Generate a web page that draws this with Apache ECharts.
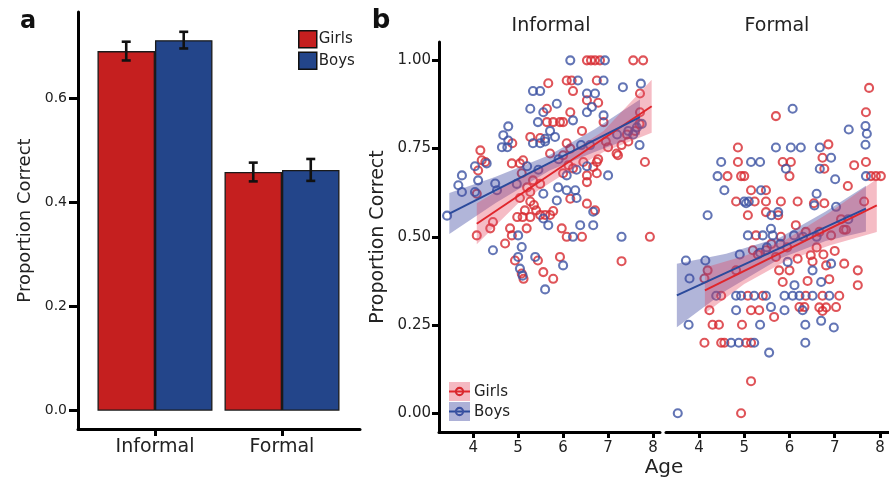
<!DOCTYPE html>
<html><head><meta charset="utf-8">
<script src="https://cdn.jsdelivr.net/npm/echarts@6/dist/echarts.min.js"></script>
<style>html,body{margin:0;padding:0;background:#fff}#c{width:889px;height:480px}</style>
</head><body><div id="c"></div>
<script>
// ---------- Panel a data ----------
const cats = ['Informal', 'Formal'];
const barGirls = [0.690, 0.458];
const barBoys = [0.711, 0.462];
const errGirls = [0.018, 0.018];
const errBoys = [0.016, 0.021];
const barTicks = [0, 0.2, 0.4, 0.6];

// ---------- Panel b data: [age, proportion] ----------
const informalGirls = [
[6.53,1.0],[6.62,1.0],[6.71,1.0],[6.82,1.0],[7.56,1.0],[7.78,1.0],
[5.67,0.935],[6.08,0.943],[6.19,0.943],[6.75,0.943],[6.22,0.913],[7.71,0.906],
[6.53,0.887],[6.78,0.88],[5.64,0.863],[6.16,0.853],[7.71,0.853],
[5.64,0.825],[5.78,0.825],[5.93,0.825],[6.0,0.825],[6.42,0.80],[6.9,0.825],
[4.87,0.765],[5.27,0.783],[5.49,0.78],[6.08,0.765],[4.16,0.745],[4.19,0.717],[4.11,0.688],
[4.86,0.708],[5.04,0.708],[5.11,0.717],[5.71,0.736],[5.08,0.68],[5.49,0.65],[5.27,0.627],
[6.0,0.68],[6.45,0.712],[6.75,0.712],[6.75,0.68],[6.22,0.694],[6.53,0.655],[6.16,0.608],
[6.53,0.594],[6.71,0.575],[7.19,0.736],[7.82,0.712],[7.0,0.754],
[5.04,0.61],[5.15,0.575],[5.27,0.6],[5.4,0.575],[5.49,0.562],[5.6,0.562],[5.71,0.562],[5.2,0.64],[5.35,0.59],
[4.27,0.712],[4.08,0.622],[6.16,0.75],[6.12,0.703],[6.67,0.698],[6.78,0.72],[6.53,0.674],[7.22,0.731],[5.33,0.66],[6.0,0.731],
[4.44,0.542],[4.38,0.524],[4.08,0.504],[4.71,0.481],[4.82,0.524],[4.86,0.504],[5.19,0.524],[4.98,0.556],[5.1,0.556],[5.27,0.556],
[5.78,0.573],[5.97,0.524],[6.08,0.5],[6.42,0.5],[7.93,0.5],[7.3,0.431],[4.93,0.433],[5.08,0.396],[5.12,0.381],[5.44,0.433],
[5.56,0.4],[5.78,0.381],[5.93,0.443],
[7.42,0.79],[7.6,0.80],[7.7,0.82],[7.45,0.77],[6.95,0.77],[7.3,0.76]
];
const informalBoys = [
[6.16,1.0],[6.93,1.0],[6.33,0.943],[6.9,0.943],[7.33,0.924],[7.73,0.934],
[5.33,0.913],[5.49,0.913],[6.53,0.906],[6.71,0.906],[5.86,0.877],[5.27,0.863],[5.56,0.853],[6.53,0.853],[6.64,0.868],
[4.78,0.813],[5.44,0.825],[5.71,0.80],[6.22,0.83],[6.9,0.844],[7.64,0.81],
[4.67,0.788],[4.78,0.773],[4.64,0.754],[4.76,0.754],[5.33,0.765],[5.49,0.765],[5.6,0.77],[5.82,0.783],
[4.3,0.708],[4.04,0.70],[3.75,0.674],[3.67,0.646],[3.75,0.627],[4.11,0.66],[4.04,0.627],[4.49,0.651],[4.97,0.65],
[6.3,0.69],[6.53,0.70],[7.0,0.674],[5.89,0.64],[6.08,0.632],[6.27,0.632],[6.3,0.61],[5.86,0.603],[5.56,0.622],[4.53,0.632],
[6.08,0.674],[5.6,0.778],
[3.42,0.56],[5.0,0.504],[5.08,0.471],[5.56,0.552],[5.67,0.533],[6.22,0.5],[6.38,0.533],[6.67,0.533],[6.67,0.571],[7.3,0.5],
[4.44,0.462],[5.0,0.443],[5.04,0.41],[5.1,0.39],[5.38,0.443],[5.6,0.351],[6.0,0.419],
[7.56,0.79],[7.75,0.82],[7.45,0.80],[7.2,0.79],[7.7,0.76],
[5.2,0.70],[5.45,0.69],[5.9,0.72],[6.4,0.76],[6.6,0.76]
];
const formalGirls = [
[5.70,0.842],[7.69,0.853],[7.76,0.922],[4.86,0.753],[6.86,0.762],[4.86,0.712],[5.85,0.712],[6.03,0.712],[6.73,0.724],
[6.77,0.693],[7.43,0.703],[7.69,0.712],[4.63,0.672],[4.93,0.672],[5.0,0.672],[6.0,0.672],[7.8,0.672],[7.91,0.672],[8.02,0.672],
[7.29,0.644],[5.15,0.632],[5.48,0.632],[4.82,0.6],[5.23,0.6],[5.48,0.6],[5.81,0.6],[6.18,0.6],[6.54,0.595],[6.77,0.595],
[5.08,0.561],[5.48,0.57],[5.75,0.561],[7.14,0.55],[7.65,0.6],[5.26,0.504],[5.81,0.5],[6.14,0.533],[6.36,0.514],[6.66,0.514],
[6.92,0.504],[7.25,0.52],[4.19,0.405],[4.12,0.382],[5.19,0.462],[5.48,0.462],[5.7,0.443],[6.18,0.438],[6.47,0.448],[6.51,0.43],
[6.81,0.419],[7.21,0.424],[7.51,0.405],[7.51,0.363],[4.82,0.405],[5.77,0.405],[6.0,0.405],[5.85,0.372],[6.4,0.375],[6.88,0.38],
[4.49,0.333],[5.08,0.333],[5.41,0.333],[6.36,0.333],[6.73,0.333],[7.1,0.333],[4.23,0.292],[5.15,0.292],[5.33,0.292],[5.66,0.273],
[6.22,0.301],[6.33,0.301],[6.66,0.30],[6.73,0.29],[6.81,0.30],[7.03,0.301],[4.3,0.251],[4.44,0.251],[4.95,0.251],
[4.12,0.2],[4.49,0.2],[4.56,0.2],[5.04,0.2],[5.15,0.2],[5.15,0.091],[4.93,0.0],
[5.3,0.45],[5.6,0.48],[5.95,0.47],[6.6,0.47],[6.75,0.45],[7.2,0.52],[7.0,0.46]
];
const formalBoys = [
[6.07,0.863],[7.31,0.804],[7.68,0.814],[7.71,0.792],[7.68,0.761],[5.70,0.753],[6.03,0.753],[6.25,0.753],[6.67,0.753],
[4.49,0.712],[5.15,0.712],[5.35,0.712],[5.92,0.693],[6.92,0.724],[6.67,0.693],[4.41,0.672],[7.01,0.663],[7.69,0.672],
[4.56,0.632],[5.37,0.632],[5.0,0.6],[5.1,0.6],[6.6,0.622],[5.04,0.595],[4.19,0.561],[5.6,0.561],[5.75,0.57],[6.55,0.589],
[7.03,0.585],[5.08,0.504],[5.41,0.504],[5.59,0.523],[5.63,0.504],[6.1,0.504],[3.71,0.433],[4.14,0.433],[3.79,0.382],
[5.35,0.455],[5.96,0.429],[6.51,0.405],[6.92,0.424],[6.11,0.363],[6.7,0.372],
[4.38,0.333],[4.82,0.333],[4.93,0.333],[5.22,0.333],[5.48,0.333],[5.89,0.333],[6.07,0.333],[6.22,0.333],[6.51,0.333],[6.88,0.333],
[4.82,0.292],[5.59,0.301],[5.89,0.292],[6.29,0.292],[6.70,0.262],[6.98,0.243],[3.77,0.251],[5.35,0.251],[6.35,0.251],
[4.71,0.2],[4.88,0.2],[5.22,0.2],[6.35,0.2],[5.55,0.172],[3.53,0.0],
[5.5,0.47],[5.8,0.48],[6.3,0.5],[6.6,0.5],[4.9,0.45],[7.3,0.55]
];

// fitted lines (endpoints)
const fitInfGirls = [[4.08,0.537],[7.97,0.870]];
const fitInfBoys = [[3.47,0.566],[7.71,0.839]];
const fitForGirls = [[4.13,0.348],[7.93,0.589]];
const fitForBoys = [[3.51,0.334],[7.69,0.580]];
// confidence bands: ages, lower, upper
const bandInfGirlsX = [4.08,5.0,5.9,6.9,7.97];
const bandInfGirlsLo = [0.479,0.595,0.668,0.740,0.795];
const bandInfGirlsHi = [0.595,0.667,0.718,0.800,0.945];
const bandInfBoysX = [3.47,4.5,5.7,6.7,7.71];
const bandInfBoysLo = [0.508,0.596,0.688,0.740,0.789];
const bandInfBoysHi = [0.624,0.670,0.732,0.805,0.889];
const bandForGirlsX = [4.13,5.0,5.9,6.9,7.93];
const bandForGirlsLo = [0.283,0.366,0.430,0.476,0.514];
const bandForGirlsHi = [0.413,0.446,0.490,0.570,0.664];
const bandForBoysX = [3.51,4.6,5.8,6.8,7.69];
const bandForBoysLo = [0.244,0.348,0.439,0.488,0.515];
const bandForBoysHi = [0.424,0.452,0.499,0.572,0.645];
const ageTicks = [4,5,6,7,8];
const propTicks = [0, 0.25, 0.5, 0.75, 1.0];

// ---------- styles ----------
const RED = '#c51f1f', BLUE = '#23458a';
const PRED = '#d7292f', PBLUE = '#3c52a2';
const FONT = 'DejaVu Sans';
const TXT = '#222';
const BAR_W = 57.5;

function bandSeries(xs, lo, hi, fill, gi) {
  return {
    type: 'custom', xAxisIndex: gi, yAxisIndex: gi, z: 3, silent: true,
    data: [[xs[2], (lo[2] + hi[2]) / 2]],
    renderItem: function (params, api) {
      const pts = [];
      for (let i = 0; i < xs.length; i++) pts.push(api.coord([xs[i], hi[i]]));
      for (let i = xs.length - 1; i >= 0; i--) pts.push(api.coord([xs[i], lo[i]]));
      return { type: 'polygon', shape: { points: pts }, style: { fill: fill } };
    }
  };
}
function lineSeries(d, color, gi) {
  return { type: 'line', xAxisIndex: gi, yAxisIndex: gi, data: d, showSymbol: false, z: 4, silent: true,
    lineStyle: { color: color, width: 2 } };
}
function scatterSeries(name, d, color, gi) {
  return { type: 'scatter', name: name, xAxisIndex: gi, yAxisIndex: gi, data: d, z: 2,
    symbol: 'circle', symbolSize: 8,
    itemStyle: { color: 'rgba(0,0,0,0)', borderColor: color, borderWidth: 2.1 } };
}
function errSeries(vals, errs, side) {
  return {
    type: 'custom', xAxisIndex: 0, yAxisIndex: 0, z: 5, silent: true,
    data: vals.map((v, i) => [i + 1, v, errs[i]]),
    renderItem: function (params, api) {
      const x = api.value(0), m = api.value(1), e = api.value(2);
      const t = api.coord([x, m + e]), b = api.coord([x, m - e]);
      const cx = t[0] + side * BAR_W / 2;
      const st = { stroke: '#111', lineWidth: 2.6 };
      return { type: 'group', children: [
        { type: 'line', shape: { x1: cx, y1: t[1], x2: cx, y2: b[1] }, style: st },
        { type: 'line', shape: { x1: cx - 4.5, y1: t[1], x2: cx + 4.5, y2: t[1] }, style: st },
        { type: 'line', shape: { x1: cx - 4.5, y1: b[1], x2: cx + 4.5, y2: b[1] }, style: st }
      ]};
    }
  };
}

const axisLineStyle = { show: true, onZero: false, lineStyle: { color: '#000', width: 3 } };

const chart = echarts.init(document.getElementById('c'), null, { renderer: 'canvas' });
chart.setOption({
  animation: false,
  backgroundColor: '#fff',
  textStyle: { fontFamily: FONT },
  grid: [
    { left: 78, top: 12, width: 282, height: 417 },
    { left: 439, top: 42, width: 221, height: 390 },
    { left: 666, top: 42, width: 223, height: 390 }
  ],
  xAxis: [
    { type: 'value', gridIndex: 0, min: 0.394, max: 2.614, splitLine: { show: false },
      axisLine: axisLineStyle,
      axisTick: { show: true, length: 7, customValues: [1, 2], lineStyle: { color: '#000', width: 3 } },
      axisLabel: { customValues: [1, 2], formatter: v => cats[Math.round(v) - 1], fontSize: 19, color: TXT, margin: 9, fontFamily: FONT } },
    { type: 'value', gridIndex: 1, min: 3.24, max: 8.155, splitLine: { show: false },
      axisLine: axisLineStyle,
      axisTick: { show: true, length: 6, customValues: ageTicks, lineStyle: { color: '#000', width: 3 } },
      axisLabel: { customValues: ageTicks, fontSize: 15, color: TXT, margin: 9, fontFamily: FONT } },
    { type: 'value', gridIndex: 2, min: 3.27, max: 8.2, splitLine: { show: false },
      axisLine: axisLineStyle,
      axisTick: { show: true, length: 6, customValues: ageTicks, lineStyle: { color: '#000', width: 3 } },
      axisLabel: { customValues: ageTicks, fontSize: 15, color: TXT, margin: 9, fontFamily: FONT } }
  ],
  yAxis: [
    { type: 'value', gridIndex: 0, min: -0.0351, max: 0.765, splitLine: { show: false },
      axisLine: axisLineStyle,
      axisTick: { show: true, length: 9, customValues: barTicks, lineStyle: { color: '#000', width: 3 } },
      axisLabel: { customValues: barTicks, formatter: v => v.toFixed(1), fontSize: 14, color: TXT, margin: 11, fontFamily: FONT },
      name: 'Proportion Correct', nameLocation: 'middle', nameGap: 44,
      nameTextStyle: { fontSize: 18, color: TXT, fontFamily: FONT } },
    { type: 'value', gridIndex: 1, min: -0.053, max: 1.052, splitLine: { show: false },
      axisLine: axisLineStyle,
      axisTick: { show: true, length: 7, customValues: propTicks, lineStyle: { color: '#000', width: 3 } },
      axisLabel: { customValues: propTicks, formatter: v => v.toFixed(2), fontSize: 15, color: TXT, margin: 8, fontFamily: FONT },
      name: 'Proportion Correct', nameLocation: 'middle', nameGap: 51,
      nameTextStyle: { fontSize: 19, color: TXT, fontFamily: FONT } },
    { type: 'value', gridIndex: 2, min: -0.053, max: 1.052, splitLine: { show: false },
      axisLine: { show: false }, axisTick: { show: false }, axisLabel: { show: false } }
  ],
  legend: {
    data: ['Girls', 'Boys'], orient: 'vertical', left: 293, top: 25, itemWidth: 18, itemHeight: 17, itemGap: 3,
    icon: 'rect', selectedMode: false,
    itemStyle: { borderColor: '#111', borderWidth: 1.5 },
    textStyle: { fontSize: 15, color: TXT, fontFamily: FONT, padding: [0, 0, 0, -3] }
  },
  graphic: [
    { type: 'text', x: 28, y: 22, style: { text: 'a', font: 'bold 24px "DejaVu Sans"', fill: '#111', textAlign: 'center', textVerticalAlign: 'middle' } },
    { type: 'text', x: 381, y: 21, style: { text: 'b', font: 'bold 26px "DejaVu Sans"', fill: '#111', textAlign: 'center', textVerticalAlign: 'middle' } },
    { type: 'text', x: 551, y: 26.5, style: { text: 'Informal', font: '19px "DejaVu Sans"', fill: TXT, textAlign: 'center', textVerticalAlign: 'middle' } },
    { type: 'text', x: 777, y: 26.5, style: { text: 'Formal', font: '19px "DejaVu Sans"', fill: TXT, textAlign: 'center', textVerticalAlign: 'middle' } },
    { type: 'text', x: 664, y: 468, style: { text: 'Age', font: '20px "DejaVu Sans"', fill: TXT, textAlign: 'center', textVerticalAlign: 'middle' } },
    // panel b legend keys
    { type: 'rect', shape: { x: 449, y: 382, width: 21, height: 19 }, style: { fill: 'rgba(228,70,95,0.38)' } },
    { type: 'line', shape: { x1: 449, y1: 391.5, x2: 470, y2: 391.5 }, style: { stroke: '#e0262c', lineWidth: 2 } },
    { type: 'circle', shape: { cx: 459.5, cy: 391.5, r: 3.6 }, style: { fill: 'none', stroke: PRED, lineWidth: 2.1 } },
    { type: 'rect', shape: { x: 449, y: 402, width: 21, height: 19 }, style: { fill: 'rgba(60,70,160,0.42)' } },
    { type: 'line', shape: { x1: 449, y1: 411.5, x2: 470, y2: 411.5 }, style: { stroke: '#2b4a9b', lineWidth: 2 } },
    { type: 'circle', shape: { cx: 459.5, cy: 411.5, r: 3.6 }, style: { fill: 'none', stroke: PBLUE, lineWidth: 2.1 } },
    { type: 'text', x: 474, y: 392, style: { text: 'Girls', font: '15px "DejaVu Sans"', fill: TXT, textVerticalAlign: 'middle' } },
    { type: 'text', x: 474, y: 412, style: { text: 'Boys', font: '15px "DejaVu Sans"', fill: TXT, textVerticalAlign: 'middle' } }
  ],
  series: [
    { type: 'bar', name: 'Girls', xAxisIndex: 0, yAxisIndex: 0, data: barGirls.map((v, i) => [i + 1, v]),
      barWidth: BAR_W, barGap: '0%', itemStyle: { color: RED, borderColor: '#1a1a1a', borderWidth: 1.3 } },
    { type: 'bar', name: 'Boys', xAxisIndex: 0, yAxisIndex: 0, data: barBoys.map((v, i) => [i + 1, v]),
      barWidth: BAR_W, barGap: '0%', itemStyle: { color: BLUE, borderColor: '#1a1a1a', borderWidth: 1.3 } },
    errSeries(barGirls, errGirls, -1),
    errSeries(barBoys, errBoys, 1),

    scatterSeries('Informal girls', informalGirls, PRED, 1),
    scatterSeries('Informal boys', informalBoys, PBLUE, 1),
    bandSeries(bandInfBoysX, bandInfBoysLo, bandInfBoysHi, 'rgba(60,70,160,0.40)', 1),
    bandSeries(bandInfGirlsX, bandInfGirlsLo, bandInfGirlsHi, 'rgba(228,70,95,0.36)', 1),
    lineSeries(fitInfGirls, '#e0262c', 1),
    lineSeries(fitInfBoys, '#2b4a9b', 1),

    scatterSeries('Formal girls', formalGirls, PRED, 2),
    scatterSeries('Formal boys', formalBoys, PBLUE, 2),
    bandSeries(bandForBoysX, bandForBoysLo, bandForBoysHi, 'rgba(60,70,160,0.40)', 2),
    bandSeries(bandForGirlsX, bandForGirlsLo, bandForGirlsHi, 'rgba(228,70,95,0.36)', 2),
    lineSeries(fitForGirls, '#e0262c', 2),
    lineSeries(fitForBoys, '#2b4a9b', 2)
  ]
});
</script></body></html>
